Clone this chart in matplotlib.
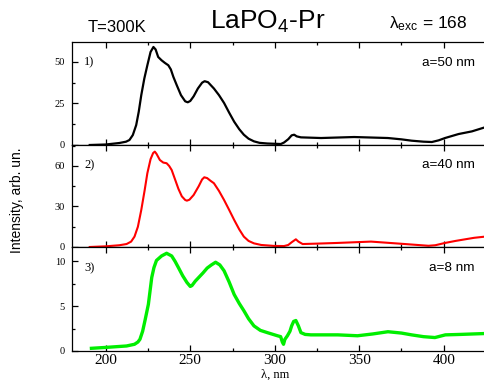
import matplotlib
matplotlib.use('Agg')
import matplotlib.pyplot as plt
from matplotlib.ticker import MultipleLocator

plt.rcParams['font.family'] = ['Liberation Sans', 'DejaVu Sans']
plt.rcParams['mathtext.fontset'] = 'custom'
plt.rcParams['mathtext.rm'] = 'Liberation Sans'
plt.rcParams['mathtext.it'] = 'Liberation Sans'

# spectrum 1) a=50 nm
wl1 = [190.5, 200, 208, 212, 214, 216, 218, 219.5, 221, 222.8, 224.6, 226.5, 228.2, 229.5,
       231, 233, 235, 237, 238.5, 240, 242, 244.5, 247, 248.5, 250, 252, 254.5, 257,
       258.5, 260.5, 264, 267, 270, 273, 276, 279, 281.7, 284.5, 287.7, 291, 295.6,
       303.6, 305.5, 308, 310, 311.5, 313, 315.5, 327.4, 347, 367, 375, 381, 388,
       393, 397, 400.8, 408.8, 416.7, 424.6]
int1 = [0.0, 0.3, 1.2, 2, 3, 6, 12, 20, 30, 40, 48, 56, 59, 57.5,
        53, 51, 49.4, 48, 45.5, 41, 36, 30, 26.3, 25.7, 26.5, 29.3, 34, 37.5,
        38.4, 37.8, 34, 30, 25.3, 19.5, 14, 9.5, 6.2, 3.8, 2.2, 1.3, 0.9,
        0.6, 1.5, 3.5, 5.8, 6.2, 5.2, 4.6, 4.2, 4.8, 4.2, 3.4, 2.6, 2.0,
        1.8, 2.8, 4.2, 6.6, 8.2, 10.7]

# spectrum 2) a=40 nm
wl2 = [190.5, 200, 208, 212.3, 215, 217, 219, 221, 223, 224.6, 226.5, 228, 229, 230,
       232, 234, 236, 237.5, 239, 241, 243, 245, 247, 248, 249.5, 252, 255, 257,
       258.3, 260, 262, 264, 267, 270, 273, 276, 279, 281.7, 284.5, 287.7, 292,
       299.6, 305.5, 308, 310, 312.5, 314, 316.5, 325, 337, 357, 377, 391, 395,
       400.8, 407, 412.7, 418, 424.6]
int2 = [0.0, 0.5, 1.3, 2.2, 4, 7.7, 15, 27.4, 42, 54.6, 65, 69.5, 70.6, 69,
        64.4, 62.5, 62, 60, 57, 50, 43, 37.5, 34.8, 34.3, 35, 38.5, 45, 50,
        51.6, 51, 49, 47.2, 41.5, 34.8, 27.5, 20, 13, 7.7, 4.5, 2.7, 1.5,
        0.8, 0.7, 1.5, 3.5, 5.7, 4, 2.2, 2.5, 3, 4, 2.2, 0.9, 1.3,
        3, 4.5, 5.7, 6.8, 7.7]

# spectrum 3) a=8 nm
wl3 = [191.5, 200, 212.3, 217, 219, 220.2, 221.8, 223.2, 225.2, 227.2, 228.5, 230, 233,
       236, 239, 241, 243, 245.5, 248, 250, 251, 253, 255, 257.5, 260, 262.5, 265,
       267.5, 270, 273, 276, 279, 281.7, 284.5, 287.7, 291.5, 295.6, 301.6, 303.5,
       304.5, 305.2, 306, 307.5, 309, 310, 311.2, 312.5, 314, 315.5, 318, 321.4,
       337.3, 349, 358, 367, 375, 381, 388, 394.8, 401, 410, 424.6]
int3 = [0.3, 0.4, 0.56, 0.75, 1.0, 1.3, 2.2, 3.4, 5.2, 8.2, 9.3, 10.1, 10.6,
        10.9, 10.6, 10.0, 9.3, 8.4, 7.65, 7.2, 7.3, 7.8, 8.2, 8.7, 9.25, 9.6, 9.9,
        9.6, 8.95, 7.7, 6.3, 5.3, 4.5, 3.6, 2.8, 2.3, 2.05, 1.7, 1.6,
        1.0, 0.75, 1.3, 1.7, 2.2, 2.8, 3.3, 3.4, 2.8, 2.05, 1.85, 1.8,
        1.8, 1.7, 1.9, 2.15, 2.0, 1.8, 1.6, 1.5, 1.8, 1.85, 1.95]

series = [(wl1, int1, 'black', 1.6, (0, 62), 25, '1)', 'a=50 nm'),
          (wl2, int2, 'red', 1.5, (0, 75.5), 30, '2)', 'a=40 nm'),
          (wl3, int3, '#00ee00', 2.4, (0, 11.6), 5, '3)', 'a=8 nm')]

fig = plt.figure(figsize=(4.84, 3.8), dpi=100)

# panel boundaries in pixels (top, bottom)
edges = [(42, 145), (145, 247), (247, 351)]
left = 72 / 484
width = 1.004 - left

for i, (x, y, col, lw, ylim, step, num, lab) in enumerate(series):
    top, bot = edges[i]
    ax = fig.add_axes([left, 1 - bot / 380, width, (bot - top) / 380])
    ax.plot(x, y, color=col, lw=lw, solid_joinstyle='round')
    ax.set_xlim(180, 425)
    ax.set_ylim(*ylim)
    ax.yaxis.set_major_locator(MultipleLocator(step))
    ax.yaxis.set_minor_locator(MultipleLocator(step / 2))
    ax.xaxis.set_major_locator(MultipleLocator(50))
    ax.xaxis.set_minor_locator(MultipleLocator(25))
    ax.tick_params(which='both', direction='in', top=True, right=False, width=0.9)
    ax.tick_params(which='major', length=4.5)
    ax.tick_params(which='minor', length=2.5)
    ax.tick_params(axis='y', labelsize=7.5, pad=5)
    for t in ax.get_yticklabels():
        t.set_family('Liberation Serif')
    if i < 2:
        ax.tick_params(axis='x', labelbottom=False)
    else:
        ax.tick_params(axis='x', labelsize=11, pad=2)
        for t in ax.get_xticklabels():
            t.set_family('Liberation Serif')
    for s in ax.spines.values():
        s.set_linewidth(0.9)
    ax.text(0.03, 0.8, num, transform=ax.transAxes, family='Liberation Serif',
            fontsize=9, va='center')
    ax.text(0.973, 0.8, lab, transform=ax.transAxes, fontsize=9.7,
            ha='right', va='center')

fig.text(117 / 484, 1 - 27 / 380, 'T=300K', fontsize=12, ha='center', va='center')
fig.text(268 / 484, 1 - 22 / 380, r'LaPO$_4$-Pr', fontsize=19, ha='center', va='center')
fig.text(428 / 484, 1 - 24 / 380, r'λ$_{\rm exc}$ = 168', fontsize=12.5, ha='center', va='center')
fig.text(17 / 484, 1 - 200 / 380, 'Intensity, arb. un.', fontsize=10, rotation=90,
         ha='center', va='center')
fig.text(275 / 484, 1 - 374.5 / 380, 'λ, nm', fontsize=9, ha='center', va='center',
         family='Liberation Serif')

fig.savefig('out.png', dpi=100)
